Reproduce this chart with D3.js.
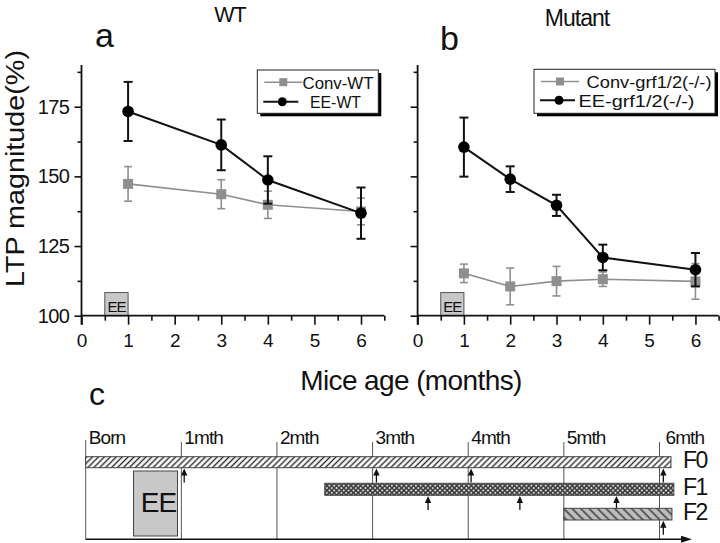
<!DOCTYPE html>
<html><head><meta charset="utf-8">
<script src="https://cdn.jsdelivr.net/npm/d3@7"></script>
<style>
html,body{margin:0;padding:0;background:#fff;}
svg{display:block;font-family:"Liberation Sans",Arial,sans-serif;}
</style></head>
<body>
<svg id="chart" width="720" height="543"></svg>
<script>
// ---------- data ----------
const monthsA = [1, 3, 4, 6];
const convWT = [147.3, 143.6, 139.8, 137.4];
const convWTErr = [6.2, 5.2, 4.9, 4.8];
const eeWT = [173.3, 161.3, 148.7, 136.8];
const eeWTErr = [10.6, 9.1, 8.5, 9.2];

const monthsB = [1, 2, 3, 4, 6];
const convMut = [115.2, 110.5, 112.4, 113.1, 112.3];
const convMutErr = [3.3, 6.6, 5.3, 2.6, 6.4];
const eeMut = [160.5, 149.0, 139.6, 120.9, 116.5];
const eeMutErr = [10.6, 4.6, 3.8, 4.6, 6.0];

const yMajorTicks = [100, 125, 150, 175];
const yMinorTicks = [112.5, 137.5, 162.5, 187.5];
const xMajorTicks = [0, 1, 2, 3, 4, 5, 6];
const xMinorTicks = [0.5, 1.5, 2.5, 3.5, 4.5, 5.5, 6.5];
const eeWindow = [0.5, 1.0];

const legendA = ["Conv-WT", "EE-WT"];
const legendB = ["Conv-grf1/2(-/-)", "EE-grf1/2(-/-)"];

// panel c (timeline)
const ageMonths = [0, 1, 2, 3, 4, 5, 6];
const ageLabels = ["Born", "1mth", "2mth", "3mth", "4mth", "5mth", "6mth"];
const genNames = ["F0", "F1", "F2"];
const genStart = [0, 2.5, 5];
const genEnd = [6.12, 6.15, 6.13];
const genArrows = [[1.03, 3.04, 4.03, 6.04], [3.58, 4.54, 5.55], [6.04]];
const eePeriod = [0.5, 0.96];

// ---------- drawing ----------
const svg = d3.select("#chart");
const FONT = '"Liberation Sans",Arial,sans-serif';
const GRAY = "#8f8f8f";

const y = d3.scaleLinear().domain([100, 190]).range([315.7, 64.9]);

function panel(opts) {
  const x = d3.scaleLinear().domain([0, 6.5]).range(opts.xr);
  const g = svg.append("g");
  const x0 = opts.xr[0];

  // EE box
  g.append("rect").attr("x", x(eeWindow[0])).attr("y", y(108.3))
    .attr("width", x(eeWindow[1]) - x(eeWindow[0])).attr("height", y(100) - y(108.3))
    .attr("fill", "#c8c8c8").attr("stroke", "#555").attr("stroke-width", 1);
  g.append("text").attr("x", (x(eeWindow[0]) + x(eeWindow[1])) / 2).attr("y", y(100) - 3.5)
    .attr("text-anchor", "middle").attr("font-size", 15).attr("letter-spacing", -1)
    .attr("fill", "#111").text("EE");

  // axes
  const yAxis = d3.axisLeft(y).tickValues(yMajorTicks).tickSize(7).tickPadding(5)
    .tickFormat(opts.yLabels ? d3.format("d") : "");
  const yMinor = d3.axisLeft(y).tickValues(yMinorTicks).tickSize(4).tickFormat("");
  const xAxis = d3.axisBottom(x).tickValues(xMajorTicks).tickSize(9).tickPadding(9).tickFormat(d3.format("d"));
  const xMinor = d3.axisBottom(x).tickValues(xMinorTicks).tickSize(5).tickFormat("");

  const ga = g.append("g").attr("transform", `translate(${x0},0)`).call(yAxis);
  g.append("g").attr("transform", `translate(${x0},0)`).call(yMinor);
  const gx = g.append("g").attr("transform", `translate(0,${y(100)})`).call(xAxis);
  g.append("g").attr("transform", `translate(0,${y(100)})`).call(xMinor);
  g.selectAll(".domain").remove();
  g.selectAll(".tick line").attr("stroke", "#111").attr("stroke-width", 1.6);
  ga.selectAll("text").attr("font-size", 20).attr("font-family", FONT).attr("fill", "#111").attr("letter-spacing", -0.5);
  gx.selectAll("text").attr("font-size", 19).attr("font-family", FONT).attr("fill", "#111");
  g.append("line").attr("x1", x0).attr("x2", x0).attr("y1", y(190)).attr("y2", y(100) + 9)
    .attr("stroke", "#111").attr("stroke-width", 1.8);
  g.append("line").attr("x1", x0).attr("x2", x(6.5)).attr("y1", y(100)).attr("y2", y(100))
    .attr("stroke", "#111").attr("stroke-width", 1.8);

  // series
  function series(months, vals, errs, color, lw, capW, marker) {
    const line = d3.line().x((d, i) => x(months[i])).y(d => y(d));
    g.append("path").datum(vals).attr("d", line).attr("fill", "none")
      .attr("stroke", color).attr("stroke-width", lw);
    const eg = g.append("g");
    vals.forEach((v, i) => {
      const cx = x(months[i]);
      eg.append("line").attr("x1", cx).attr("x2", cx).attr("y1", y(v + errs[i])).attr("y2", y(v - errs[i]))
        .attr("stroke", color).attr("stroke-width", lw);
      [v + errs[i], v - errs[i]].forEach(e => {
        eg.append("line").attr("x1", cx - capW / 2).attr("x2", cx + capW / 2).attr("y1", y(e)).attr("y2", y(e))
          .attr("stroke", color).attr("stroke-width", lw);
      });
      if (marker === "square") {
        eg.append("rect").attr("x", cx - 5).attr("y", y(v) - 5).attr("width", 10).attr("height", 10).attr("fill", color);
      } else {
        eg.append("circle").attr("cx", cx).attr("cy", y(v)).attr("r", 5.8).attr("fill", "#000");
      }
    });
  }
  series(opts.months, opts.conv, opts.convErr, GRAY, 1.6, 8, "square");
  series(opts.months, opts.ee, opts.eeErr, "#111", 2, 9, "circle");

  // legend
  const L = opts.legend;
  const lg = g.append("g");
  lg.append("rect").attr("x", L.x + 3).attr("y", L.y + 3).attr("width", L.w).attr("height", L.h).attr("fill", "#000");
  lg.append("rect").attr("x", L.x).attr("y", L.y).attr("width", L.w).attr("height", L.h)
    .attr("fill", "#fff").attr("stroke", "#222").attr("stroke-width", 1);
  // conv row
  lg.append("line").attr("x1", L.x + 7).attr("x2", L.x + 45).attr("y1", L.r1).attr("y2", L.r1)
    .attr("stroke", GRAY).attr("stroke-width", 1.6);
  lg.append("rect").attr("x", L.x + 26 - 4).attr("y", L.r1 - 4).attr("width", 8).attr("height", 8).attr("fill", GRAY);
  lg.append("text").attr("x", L.t1).attr("y", L.r1 + 6.3).attr("font-size", 17)
    .attr("textLength", L.w1).attr("lengthAdjust", "spacingAndGlyphs")
    .attr("fill", "#111").text(L.labels[0]);
  // ee row
  lg.append("line").attr("x1", L.x + 6).attr("x2", L.x + 41).attr("y1", L.r2).attr("y2", L.r2)
    .attr("stroke", "#111").attr("stroke-width", 2);
  lg.append("circle").attr("cx", L.x + 25).attr("cy", L.r2).attr("r", 4.5).attr("fill", "#000");
  lg.append("text").attr("x", L.t2).attr("y", L.r2 + 6.3).attr("font-size", 17)
    .attr("textLength", L.w2).attr("lengthAdjust", "spacingAndGlyphs")
    .attr("fill", "#111").text(L.labels[1]);

  // titles
  g.append("text").attr("x", opts.title.x).attr("y", opts.title.y).attr("text-anchor", "middle")
    .attr("font-size", opts.title.size).attr("letter-spacing", -1).attr("fill", "#111").text(opts.title.text);
  g.append("text").attr("x", opts.letter.x).attr("y", opts.letter.y)
    .attr("font-size", 34).attr("fill", "#111").text(opts.letter.text);
}

panel({
  xr: [81.5, 384.3], yLabels: true, months: monthsA,
  conv: convWT, convErr: convWTErr, ee: eeWT, eeErr: eeWTErr,
  legend: {x: 257.3, y: 70, w: 121, h: 43.3, r1: 82.2, r2: 101.7, t1: 302.5, t2: 310, w1: 71, w2: 51, labels: legendA},
  title: {x: 230, y: 21.5, size: 21.5, text: "WT"},
  letter: {x: 95, y: 47, text: "a"}
});
panel({
  xr: [417.6, 718.6], yLabels: false, months: monthsB,
  conv: convMut, convErr: convMutErr, ee: eeMut, eeErr: eeMutErr,
  legend: {x: 534, y: 69.3, w: 181, h: 44, r1: 81.5, r2: 100.3, t1: 586.5, t2: 578.5, w1: 125, w2: 116, labels: legendB},
  title: {x: 577, y: 25.5, size: 23, text: "Mutant"},
  letter: {x: 440, y: 50, text: "b"}
});

// axis titles
svg.append("text").attr("transform", "translate(24,168.5) rotate(-90)").attr("text-anchor", "middle")
  .attr("font-size", 26).attr("textLength", 237).attr("lengthAdjust", "spacingAndGlyphs")
  .attr("fill", "#111").text("LTP magnitude(%)");
svg.append("text").attr("x", 411).attr("y", 390).attr("text-anchor", "middle")
  .attr("font-size", 28).attr("letter-spacing", -0.6).attr("fill", "#111").text("Mice age (months)");
svg.append("text").attr("x", 89).attr("y", 405).attr("font-size", 32).attr("fill", "#111").text("c");

// ---------- panel c ----------
const t = d3.scaleLinear().domain([0, 6]).range([85.7, 659.5]);
const defs = svg.append("defs");
function hatch(id, bg, fg, spacing, angle, sw) {
  const p = defs.append("pattern").attr("id", id).attr("patternUnits", "userSpaceOnUse")
    .attr("width", spacing).attr("height", spacing).attr("patternTransform", `rotate(${angle})`);
  p.append("rect").attr("width", spacing).attr("height", spacing).attr("fill", bg);
  p.append("line").attr("x1", spacing / 2).attr("x2", spacing / 2).attr("y1", 0).attr("y2", spacing)
    .attr("stroke", fg).attr("stroke-width", sw);
}
hatch("pF0", "#ffffff", "#2a2a2a", 4.2, 45, 1.4);
hatch("pF2", "#bdbdbd", "#333", 6, -45, 1.4);
{
  const p = defs.append("pattern").attr("id", "pF1").attr("patternUnits", "userSpaceOnUse")
    .attr("width", 3.4).attr("height", 3.4).attr("patternTransform", "rotate(45)");
  p.append("rect").attr("width", 3.4).attr("height", 3.4).attr("fill", "#3a3a3a");
  p.append("circle").attr("cx", 1.7).attr("cy", 1.7).attr("r", 1.05).attr("fill", "#d8d8d8");
}
const pats = ["url(#pF0)", "url(#pF1)", "url(#pF2)"];

const gc = svg.append("g");
const baseY = 539.3;
// vertical month lines
ageMonths.forEach((m, i) => {
  gc.append("line").attr("x1", t(m)).attr("x2", t(m)).attr("y1", i === 0 ? 440 : 442).attr("y2", baseY)
    .attr("stroke", "#555").attr("stroke-width", 1);
  gc.append("text").attr("x", t(m) + (i === 6 ? 6 : 3)).attr("y", 444).attr("font-size", 19)
    .attr("letter-spacing", -0.9).attr("fill", "#111").text(ageLabels[i]);
});
// EE box
gc.append("rect").attr("x", t(eePeriod[0])).attr("y", 471).attr("width", t(eePeriod[1]) - t(eePeriod[0]))
  .attr("height", 65).attr("fill", "#c8c8c8").attr("stroke", "#444").attr("stroke-width", 1);
gc.append("text").attr("x", (t(eePeriod[0]) + t(eePeriod[1])) / 2 + 3).attr("y", 511.7).attr("text-anchor", "middle")
  .attr("font-size", 28).attr("letter-spacing", -1).attr("fill", "#111").text("EE");

// bars
const barTop = [456.7, 483.3, 508.3];
const barH = [11, 12, 11.7];
genNames.forEach((n, i) => {
  gc.append("rect").attr("x", t(genStart[i])).attr("y", barTop[i]).attr("width", t(genEnd[i]) - t(genStart[i]))
    .attr("height", barH[i]).attr("fill", pats[i]).attr("stroke", "#444").attr("stroke-width", 1);
  gc.append("text").attr("x", 683).attr("y", barTop[i] + barH[i]).attr("font-size", 23).attr("letter-spacing", -1.5)
    .attr("fill", "#111").text(n);
  genArrows[i].forEach(m => {
    const tip = barTop[i] + barH[i] + 0.8;
    const tail = tip + 14;
    gc.append("line").attr("x1", t(m)).attr("x2", t(m)).attr("y1", tip + 4).attr("y2", tail)
      .attr("stroke", "#111").attr("stroke-width", 1.3);
    gc.append("path").attr("d", `M${t(m)},${tip} L${t(m) - 3.2},${tip + 7} L${t(m) + 3.2},${tip + 7} Z`).attr("fill", "#111");
  });
});
// bottom axis with arrow
gc.append("line").attr("x1", t(0)).attr("x2", 688).attr("y1", baseY).attr("y2", baseY)
  .attr("stroke", "#111").attr("stroke-width", 1.6);
gc.append("path").attr("d", `M692,${baseY} L681,${baseY - 3.5} L681,${baseY + 3.5} Z`).attr("fill", "#111");
</script>
</body></html>
